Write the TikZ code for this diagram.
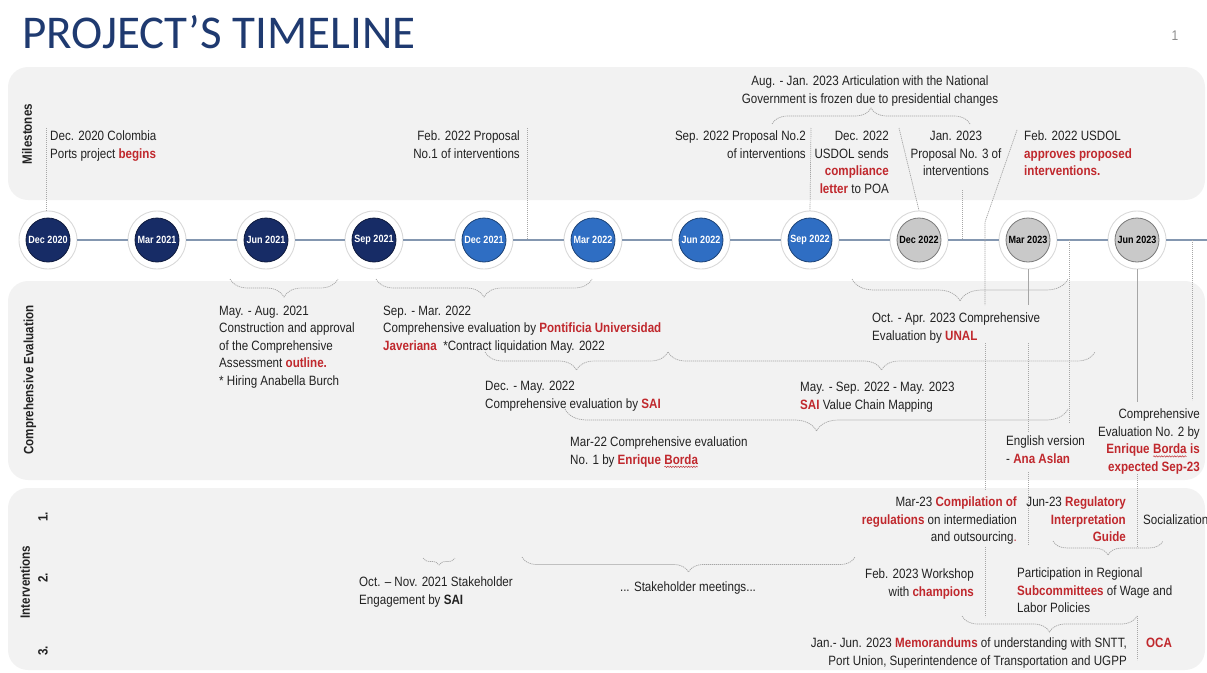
\documentclass[tikz,border=0pt]{standalone}
\usepackage{fontspec}
\setmainfont{Liberation Sans}[FakeStretch=0.86]
\newfontfamily\titlefont{Carlito}
\usetikzlibrary{decorations.pathreplacing,decorations.pathmorphing}
\definecolor{panelgray}{HTML}{F2F2F2}
\definecolor{navy}{HTML}{172C66}
\definecolor{midblue}{HTML}{2F6EC3}
\definecolor{futgray}{HTML}{C9C9C9}
\definecolor{hired}{HTML}{C0282D}
\definecolor{txt}{HTML}{222222}
\definecolor{leadc}{HTML}{A6A6A6}
\definecolor{tlinec}{HTML}{8497B0}
\definecolor{titleblue}{HTML}{1F3A70}
\newcommand\hl[1]{\textcolor{hired}{\textbf{#1}}}
\newcommand\squig[1]{\tikz[baseline=(sqw.base),x=1cm,y=1cm]{\node[inner sep=0pt,outer sep=0pt,text=hired](sqw){#1};\draw[hired,line width=0.45pt,decorate,decoration={snake,amplitude=0.7pt,segment length=2.6pt}]([yshift=-2.8pt]sqw.base west)--([yshift=-2.8pt]sqw.base east);}}
\begin{document}
\begin{tikzpicture}[x=1pt,y=-1pt,
  every node/.style={inner sep=0pt, text=txt},
  tx/.style={font=\fontsize{13.5}{17.4}\selectfont},
  txl/.style={tx, align=left, anchor=base west},
  txr/.style={tx, align=right, anchor=base east},
  txc/.style={tx, align=center, anchor=base},
  side/.style={font=\fontsize{13.5}{16}\selectfont\bfseries, rotate=90},
  panel/.style={fill=panelgray, rounded corners=20pt},
  lead/.style={draw=leadc, line width=0.7pt, dash pattern=on 1.2pt off 0.8pt},
  brup/.style={lead, decorate, decoration={brace, amplitude=#1}},
  brdown/.style={lead, decorate, decoration={brace, mirror, amplitude=#1}},
  ring/.style={circle, minimum size=58pt, fill=white, draw=black!15, line width=0.9pt},
  dot/.style={circle, minimum size=44pt, line width=0.8pt, font=\fontsize{10.5}{12}\selectfont\bfseries},
  tl/.style={draw=tlinec, line width=1.2pt}
]
\useasboundingbox (0,0) rectangle (1207,672);
% title
\node[anchor=base west, font=\titlefont\fontsize{47}{50}\selectfont, text=titleblue] (title) at (22,48) {PROJECT’S TIMELINE};
\node[anchor=base, font=\fontsize{14}{16}\selectfont, text=black!45] (pnum) at (1175,40) {1};
% panels
\fill[panel] (8,67) rectangle (1205,200);
\fill[panel] (8,281) rectangle (1205,480);
\fill[panel] (8,488) rectangle (1205,670);
% side labels
\node[side] (sMil) at (27,134) {Milestones};
\node[side] (sCE) at (30,380) {Comprehensive Evaluation};
\node[side] (sInt) at (25,582) {Interventions};
\node[side] (n1) at (43,517) {1.};
\node[side] (n2) at (43,578) {2.};
\node[side] (n3) at (43,651) {3.};
% timeline
\foreach \n/\x/\lab/\col/\tc in {1/48/Dec 2020/navy/white, 2/157/Mar 2021/navy/white, 3/266/Jun 2021/navy/white, 4/374/Sep 2021/navy/white, 5/484/Dec 2021/midblue/white, 6/593/Mar 2022/midblue/white, 7/701/Jun 2022/midblue/white, 8/810/Sep 2022/midblue/white, 9/919/Dec 2022/futgray/black, 10/1028/Mar 2023/futgray/black, 11/1137/Jun 2023/futgray/black}{
  \node[ring] (r\n) at (\x,240) {};
  \node[dot, fill=\col, draw=\col!60!black, text=\tc] (t\n) at (\x,240) {\lab};
}
\foreach \a/\b in {1/2,2/3,3/4,4/5,5/6,6/7,7/8,8/9,9/10,10/11}{\draw[tl] (r\a) -- (r\b);}
\coordinate (tend) at (1207,240);
\draw[tl] (r11) -- (tend);
% milestones texts (anchor = baseline of last line)
\node[txl] (m1) at (50,158) {Dec. 2020 Colombia\\Ports project \hl{begins}};
\node[txr] (m2) at (520,158) {Feb. 2022 Proposal\\No.1 of interventions};
\node[txr] (m3) at (806,158) {Sep. 2022 Proposal No.2\\of interventions};
\node[txc] (m4) at (870,103) {Aug. - Jan. 2023 Articulation with the National\\Government is frozen due to presidential changes};
\node[txr] (m5) at (889,193) {Dec. 2022\\USDOL sends\\\hl{compliance}\\\hl{letter} to POA};
\node[txc] (m6) at (956,175.5) {Jan. 2023\\Proposal No. 3 of\\interventions};
\node[txl] (m7) at (1024,175.5) {Feb. 2022 USDOL\\\hl{approves proposed}\\\hl{interventions.}};
% milestone leaders
\draw[lead] (46,128) -- (46,211);
\draw[lead] (527,128) -- (527,240);
\draw[lead] (811,128) -- (r8.north);
\draw[lead] (899,128) -- (r9.north);
\draw[lead] (962,190) -- (962,240);
\draw[lead] (1017,130) -- (985,222) -- (985,305);
\draw[brup=16pt] (772,124) -- (970,124);
% comprehensive evaluation texts
\node[txl] (c1) at (219,385) {May. - Aug. 2021\\Construction and approval\\of the Comprehensive\\Assessment \hl{outline.}\\* Hiring Anabella Burch};
\node[txl] (c2) at (383,350) {Sep. - Mar. 2022\\Comprehensive evaluation by \hl{Pontificia Universidad}\\\hl{Javeriana}\ \ *Contract liquidation May. 2022};
\node[txl] (c3) at (485,408) {Dec. - May. 2022\\Comprehensive evaluation by \hl{SAI}};
\node[txl] (c4) at (570,464) {Mar-22 Comprehensive evaluation\\No. 1 by \hl{Enrique \squig{Borda}}};
\node[txl] (c5) at (872,340) {Oct. - Apr. 2023 Comprehensive\\Evaluation by \hl{UNAL}};
\node[txl] (c6) at (800,409) {May. - Sep. 2022 - May. 2023\\\hl{SAI} Value Chain Mapping};
\node[txl] (c7) at (1006,463) {English version\\- \hl{Ana Aslan}};
\node[txr] (c8) at (1200,471) {Comprehensive\\Evaluation No. 2 by\\\hl{Enrique \squig{Borda} is}\\\hl{expected Sep-23}};
% braces comprehensive
\draw[brdown=18pt] (230,279) -- (338,279);
\draw[brdown=18pt] (376,279) -- (592,279);
\draw[brdown=18pt] (485,352) -- (668,352);
\draw[brdown=18pt] (668,352) -- (1095,352);
\draw[brdown=22pt] (852,279) -- (1068,279);
\draw[brdown=22pt] (565,409) -- (1068,409);
% vertical leaders lower
\draw[lead] (985,343) -- (985,490);
\draw[lead] (985,547) -- (985,617);
\draw[lead] (r10.south) -- (1028,305);
\draw[lead] (1028,343) -- (1028,432);
\draw[lead] (1028,472) -- (1028,545);
\draw[lead] (1069,240) -- (1069,423);
\draw[lead] (r11.south) -- (1137,402);
\draw[lead] (1137,474) -- (1137,548);
\draw[lead] (1192,240) -- (1192,400);
% interventions texts
\node[txr] (i1) at (1017,541.5) {Mar-23 \hl{Compilation of}\\\hl{regulations} on intermediation\\and outsourcing\textcolor{hired}{.}};
\node[txr] (i2) at (1126,541.5) {Jun-23 \hl{Regulatory}\\\hl{Interpretation}\\\hl{Guide}};
\node[txl] (i3) at (1143,524.5) {Socialization};
\node[txr] (i4) at (974,596) {Feb. 2023 Workshop\\with \hl{champions}};
\node[txl] (i5) at (1017,612.5) {Participation in Regional\\\hl{Subcommittees} of Wage and\\Labor Policies};
\node[txr] (i6) at (1127,665) {Jan.- Jun. 2023 \hl{Memorandums} of understanding with SNTT,\\Port Union, Superintendence of Transportation and UGPP};
\node[txl] (i7) at (1146,647.5) {\hl{OCA}};
\node[txl] (i8) at (359,604) {Oct. -- Nov. 2021 Stakeholder\\Engagement by \textbf{SAI}};
\node[txc] (i9) at (688,591.5) {... Stakeholder meetings...};
% braces interventions
\draw[brdown=7pt] (423,558) -- (455,558);
\draw[brdown=15pt] (522,557) -- (855,557);
\draw[brdown=14pt] (1053,541) -- (1163,541);
\draw[brdown=16pt] (962,616) -- (1137,616);
\draw[lead] (1137,616) -- (1137,660);
\end{tikzpicture}
\end{document}
